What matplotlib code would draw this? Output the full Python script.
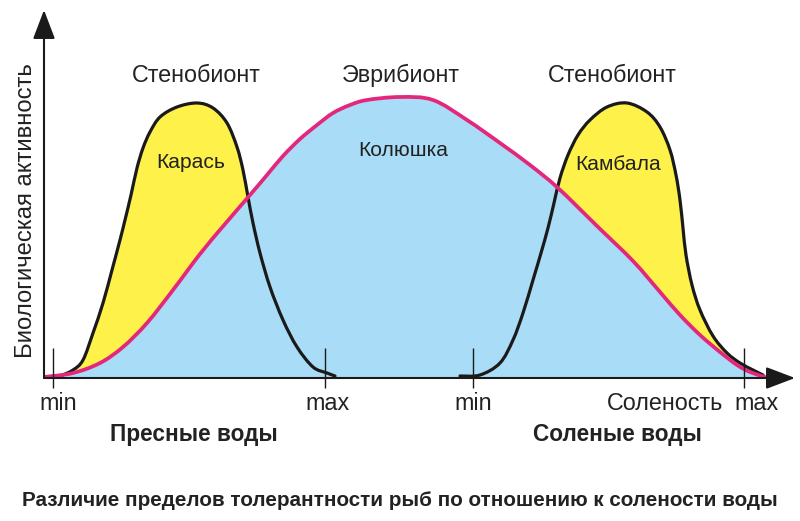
import matplotlib
matplotlib.use("Agg")
import matplotlib.pyplot as plt
from matplotlib.path import Path
from matplotlib.patches import PathPatch

plt.rcParams['font.family'] = ['Liberation Sans', 'DejaVu Sans']

# ---- data (salinity axis in arbitrary units, activity in arbitrary units) ----
karas_x = [11, 16, 29, 39, 49, 59, 68, 76, 81, 87, 93, 99, 106, 116, 133, 153, 169, 183,
           193, 199, 204, 209, 216, 226, 239, 253, 269, 283, 291]
karas_y = [1, 2, 8, 18, 45, 75, 108, 138, 158, 183, 210, 230, 246, 261, 271, 275, 270, 255,
           231, 208, 181, 155, 125, 91, 58, 31, 11, 5, 2]

kolyushka_x = [0, 29, 56, 79, 103, 129, 156, 181, 206, 223, 239, 256, 273, 289, 306,
               323, 356, 389, 423, 456, 486, 514, 553, 589, 616, 636, 656, 676, 693,
               706, 721]
kolyushka_y = [1, 5, 15, 31, 55, 88, 124, 154, 183, 203, 222, 239, 253, 265, 273,
               278, 281, 278, 258, 235, 213, 190, 152, 117, 86, 63, 43, 26, 13,
               6, 1]

kambala_x = [416, 436, 456, 469, 479, 489, 497, 504, 510, 516, 524, 534, 546, 563, 583,
             603, 616, 626, 632, 636, 639, 642, 648, 656, 669, 683, 696, 709, 719]
kambala_y = [2, 3, 15, 38, 65, 98, 125, 150, 175, 200, 223, 243, 258, 271, 275,
             266, 251, 228, 203, 178, 150, 123, 93, 68, 42, 25, 15, 8, 3]

tick_pos = [9, 281, 429, 700]
tick_labels = ["min", "max", "min", "max"]


def smooth_path(xs, ys, closed_to_base=False):
    """Catmull-Rom through the points, expressed as matplotlib cubic Bezier path."""
    pts = list(zip(xs, ys))
    n = len(pts)
    verts = [pts[0]]
    codes = [Path.MOVETO]
    for i in range(n - 1):
        p0 = pts[i - 1] if i > 0 else pts[i]
        p1 = pts[i]
        p2 = pts[i + 1]
        p3 = pts[i + 2] if i + 2 < n else pts[i + 1]
        c1 = (p1[0] + (p2[0] - p0[0]) / 6, p1[1] + (p2[1] - p0[1]) / 6)
        c2 = (p2[0] - (p3[0] - p1[0]) / 6, p2[1] - (p3[1] - p1[1]) / 6)
        verts += [c1, c2, p2]
        codes += [Path.CURVE4] * 3
    if closed_to_base:
        verts += [(xs[-1], 0), (xs[0], 0), (xs[0], 0)]
        codes += [Path.LINETO, Path.LINETO, Path.CLOSEPOLY]
    return Path(verts, codes)


# ---- figure ----
W, H = 800, 521
fig = plt.figure(figsize=(W / 100, H / 100), dpi=100)
ax = fig.add_axes([44 / W, (H - 378) / H, 751 / W, 368 / H])
ax.set_xlim(0, 751)
ax.set_ylim(0, 368)
ax.axis('off')

yellow = '#FDF14A'
blue = '#A9DCF6'
pink = '#E3287C'
ink = '#1a1a1a'

for xs, ys in [(karas_x, karas_y), (kambala_x, kambala_y)]:
    ax.add_patch(PathPatch(smooth_path(xs, ys, True), facecolor=yellow, lw=0, zorder=1))
ax.add_patch(PathPatch(smooth_path(kolyushka_x, kolyushka_y, True), facecolor=blue,
                       lw=0, zorder=2))
for xs, ys in [(karas_x, karas_y), (kambala_x, kambala_y)]:
    ax.add_patch(PathPatch(smooth_path(xs, ys), facecolor='none', edgecolor=ink,
                           lw=2.3, zorder=3, capstyle='round', joinstyle='round'))
ax.add_patch(PathPatch(smooth_path(kolyushka_x, kolyushka_y), facecolor='none',
                       edgecolor=pink, lw=2.7, zorder=4, capstyle='round',
                       joinstyle='round'))

# axes arrows
arrow = dict(arrowstyle='-|>,head_length=1.0,head_width=0.38', color=ink,
             lw=1.5, mutation_scale=18, shrinkA=0, shrinkB=0)
ax.annotate('', xy=(751, 0), xytext=(0, 0), arrowprops=arrow, zorder=5,
            annotation_clip=False)
ax.annotate('', xy=(0, 368), xytext=(0, 0), arrowprops=arrow, zorder=5,
            annotation_clip=False)

# tick marks
ax.vlines(tick_pos, -10, 30, color=ink, lw=1.0, zorder=6, clip_on=False)


def fx(px):
    return px / W


def fy(py):
    return 1 - py / H


tc = '#222222'
fs = 16.8
for xp, lab in zip([58, 328, 473, 757], tick_labels):
    fig.text(fx(xp), fy(404), lab, ha='center', va='center', fontsize=fs, color=tc)
fig.text(fx(665), fy(404), 'Соленость', ha='center', va='center', fontsize=fs, color=tc)

fig.text(fx(196), fy(75), 'Стенобионт', ha='center', va='center', fontsize=fs, color=tc)
fig.text(fx(401), fy(75), 'Эврибионт', ha='center', va='center', fontsize=fs, color=tc)
fig.text(fx(612), fy(75), 'Стенобионт', ha='center', va='center', fontsize=fs, color=tc)

fig.text(fx(191), fy(163), 'Карась', ha='center', va='center', fontsize=15.1, color=tc)
fig.text(fx(403), fy(150), 'Колюшка', ha='center', va='center', fontsize=15.1, color=tc)
fig.text(fx(618), fy(165), 'Камбала', ha='center', va='center', fontsize=15.1, color=tc)

fig.text(fx(194), fy(435), 'Пресные воды', ha='center', va='center', fontsize=16.3,
         fontweight='bold', color=tc)
fig.text(fx(617), fy(435), 'Соленые воды', ha='center', va='center', fontsize=16.3,
         fontweight='bold', color=tc)

fig.text(fx(26), fy(211), 'Биологическая активность', ha='center', va='center',
         rotation=90, fontsize=17.2, color=tc)

fig.text(fx(400), fy(501), 'Различие пределов толерантности рыб по отношению к солености воды',
         ha='center', va='center', fontsize=14.9, fontweight='bold', color=tc)

fig.savefig('out.png', dpi=100)
